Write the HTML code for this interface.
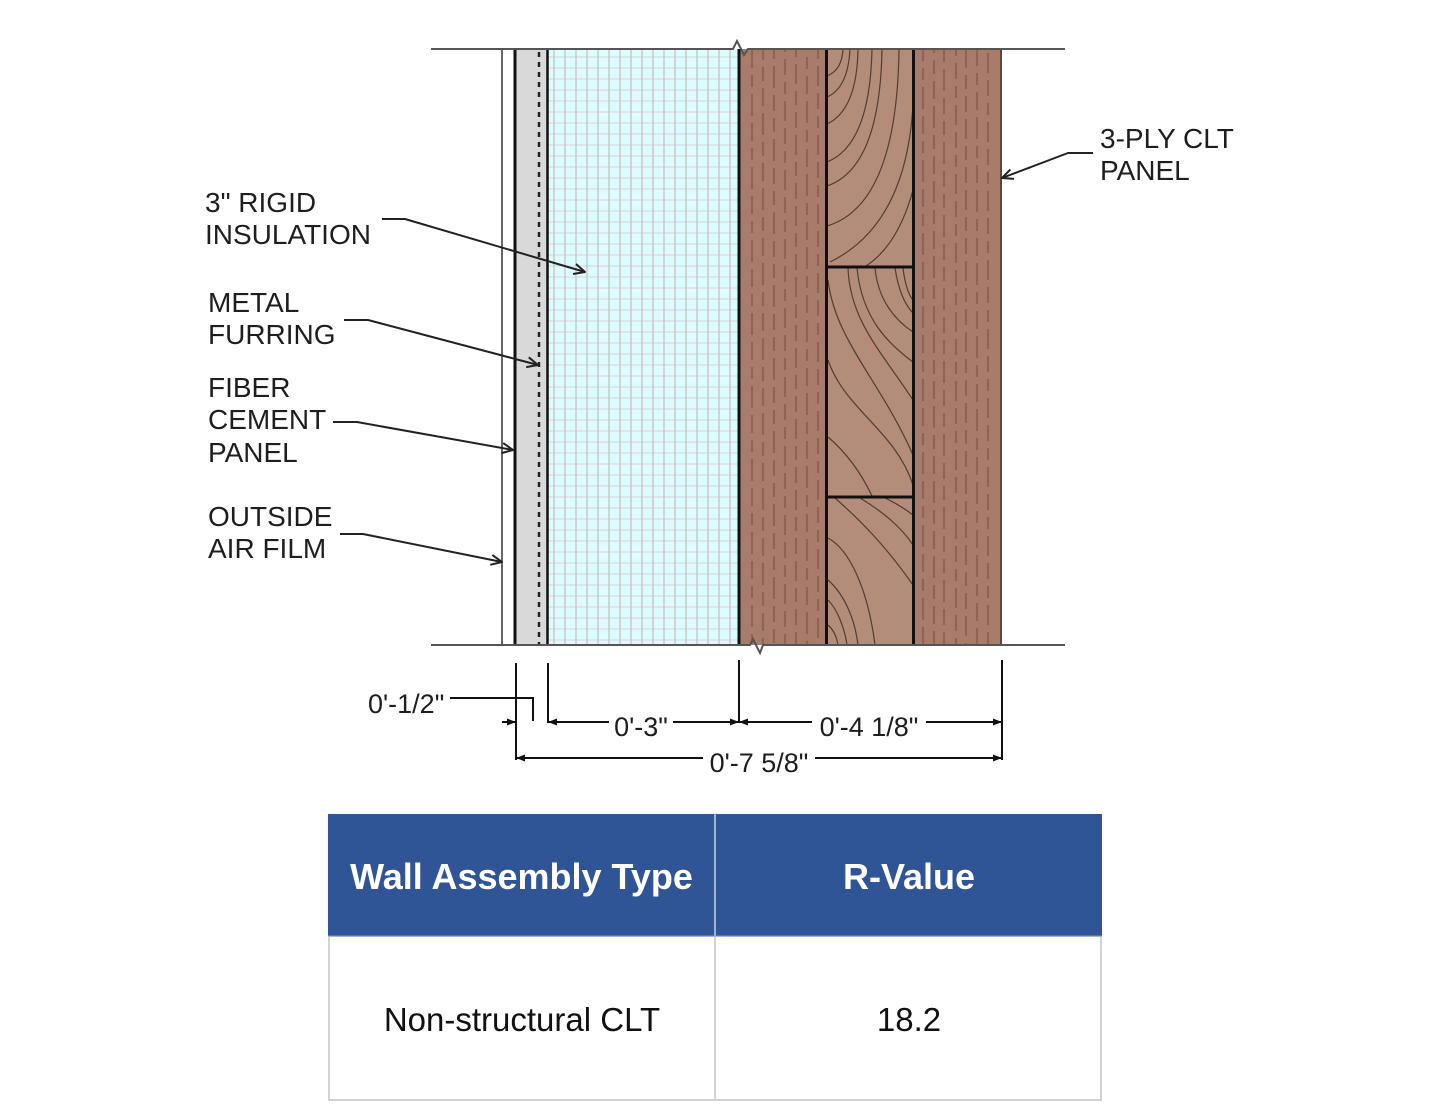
<!DOCTYPE html>
<html>
<head>
<meta charset="utf-8">
<style>
  html,body{margin:0;padding:0;background:#fff;}
  svg{display:block;}
  .lbl{font-family:"Liberation Sans",Arial,sans-serif;font-size:28px;fill:#1e1e1e;}
  .dim{font-family:"Liberation Sans",Arial,sans-serif;font-size:27px;fill:#1e1e1e;}
  .th{font-family:"Liberation Sans","DejaVu Sans",sans-serif;font-size:36px;font-weight:bold;fill:#fff;}
  .td{font-family:"Liberation Sans","DejaVu Sans",sans-serif;font-size:33px;fill:#111;}
</style>
</head>
<body>
<svg width="1440" height="1116" viewBox="0 0 1440 1116" xmlns="http://www.w3.org/2000/svg">
  <defs>
    <pattern id="grid" patternUnits="userSpaceOnUse" x="548" y="49" width="11" height="11">
      <rect width="11" height="11" fill="#dcfdfd"/>
      <line x1="0" y1="8" x2="11" y2="8" stroke="#d8d4d8" stroke-width="1"/>
      <line x1="6" y1="0" x2="6" y2="11" stroke="#ccc0c4" stroke-width="1.3"/>
    </pattern>
  </defs>

  <!-- wall fills -->
  <rect x="516" y="49" width="31" height="596" fill="#d9d9d9"/>
  <rect x="548" y="49" width="190" height="596" fill="url(#grid)"/>
  <rect x="740" y="49" width="87" height="596" fill="#a77c6a"/>
  <rect x="827" y="49" width="87" height="596" fill="#b38c7a"/>
  <rect x="914" y="49" width="87" height="596" fill="#a77c6a"/>

  <!-- outer ply dashes -->
  <g stroke="#8e5e50" stroke-width="2.2" fill="none" opacity="0.8">
    <line x1="752" y1="50" x2="752" y2="644" stroke-dasharray="18 7 12 7 22 7" stroke-dashoffset="0"/>
    <line x1="763" y1="50" x2="763" y2="644" stroke-dasharray="22 7 14 7 18 7" stroke-dashoffset="12"/>
    <line x1="774" y1="50" x2="774" y2="644" stroke-dasharray="14 7 22 7 16 7" stroke-dashoffset="5"/>
    <line x1="785" y1="50" x2="785" y2="644" stroke-dasharray="20 7 16 7 12 7" stroke-dashoffset="18"/>
    <line x1="796" y1="50" x2="796" y2="644" stroke-dasharray="16 7 20 7 14 7" stroke-dashoffset="9"/>
    <line x1="807" y1="50" x2="807" y2="644" stroke-dasharray="22 7 12 7 18 7" stroke-dashoffset="22"/>
    <line x1="818" y1="50" x2="818" y2="644" stroke-dasharray="12 7 20 7 16 7" stroke-dashoffset="3"/>
    <line x1="923" y1="50" x2="923" y2="644" stroke-dasharray="18 7 12 7 22 7" stroke-dashoffset="7"/>
    <line x1="934" y1="50" x2="934" y2="644" stroke-dasharray="22 7 14 7 18 7" stroke-dashoffset="19"/>
    <line x1="944" y1="50" x2="944" y2="644" stroke-dasharray="14 7 22 7 16 7" stroke-dashoffset="2"/>
    <line x1="956" y1="50" x2="956" y2="644" stroke-dasharray="20 7 16 7 12 7" stroke-dashoffset="14"/>
    <line x1="966" y1="50" x2="966" y2="644" stroke-dasharray="16 7 20 7 14 7" stroke-dashoffset="25"/>
    <line x1="977" y1="50" x2="977" y2="644" stroke-dasharray="22 7 12 7 18 7" stroke-dashoffset="6"/>
    <line x1="988" y1="50" x2="988" y2="644" stroke-dasharray="12 7 20 7 16 7" stroke-dashoffset="16"/>
  </g>

  <!-- middle ply grain -->
  <g stroke="#3a2a22" stroke-width="1.2" fill="none" opacity="0.8">
    <path d="M843,49 Q842,70 827,76"/>
    <path d="M850,49 Q848,88 827,97"/>
    <path d="M858,49 Q857,110 827,124"/>
    <path d="M872,49 Q870,145 827,162"/>
    <path d="M882,49 Q880,168 827,186"/>
    <path d="M899,49 Q897,205 827,226"/>
    <path d="M913,105 Q906,225 830,262"/>
    <path d="M913,190 Q898,245 866,266"/>

    <path d="M848,268 C850,320 880,350 913,400"/>
    <path d="M857,268 C862,320 890,345 913,362"/>
    <path d="M875,268 C878,300 895,320 913,332"/>
    <path d="M895,268 Q900,300 913,313"/>
    <path d="M903,268 Q906,292 913,300"/>
    <path d="M828,280 C835,340 880,380 913,455"/>
    <path d="M828,360 C845,410 895,430 913,485"/>
    <path d="M828,437 Q855,460 872,496"/>

    <path d="M835,498 C860,520 885,545 913,585"/>
    <path d="M860,498 C880,510 900,525 913,545"/>
    <path d="M885,498 Q900,505 913,515"/>
    <path d="M828,538 C850,550 868,590 875,645"/>
    <path d="M828,580 C845,595 855,620 858,645"/>
    <path d="M828,600 C838,610 845,630 847,645"/>
    <path d="M828,625 Q836,632 838,645"/>
  </g>

  <!-- vertical lines -->
  <line x1="502" y1="49" x2="502" y2="645" stroke="#666" stroke-width="2"/>
  <line x1="515" y1="49" x2="515" y2="645" stroke="#111" stroke-width="3"/>
  <line x1="539" y1="52" x2="539" y2="645" stroke="#222" stroke-width="2.5" stroke-dasharray="5 5"/>
  <line x1="547.5" y1="49" x2="547.5" y2="645" stroke="#111" stroke-width="2.5"/>
  <line x1="739" y1="49" x2="739" y2="645" stroke="#111" stroke-width="3"/>
  <line x1="826.5" y1="49" x2="826.5" y2="645" stroke="#111" stroke-width="3"/>
  <line x1="913.5" y1="49" x2="913.5" y2="645" stroke="#111" stroke-width="3"/>
  <line x1="1001" y1="49" x2="1001" y2="645" stroke="#5e463e" stroke-width="2"/>
  <line x1="827" y1="267" x2="913" y2="267" stroke="#111" stroke-width="3"/>
  <line x1="827" y1="497" x2="913" y2="497" stroke="#111" stroke-width="3"/>

  <!-- top and bottom lines with breaks -->
  <path d="M431,49 L733,49 L737,41 L744,55 L748,49 L1065,49" stroke="#555" stroke-width="2" fill="none"/>
  <path d="M431,645 L750,645 L753,639 L760,653 L763,645 L1065,645" stroke="#555" stroke-width="2" fill="none"/>

  <!-- leaders -->
  <g stroke="#222" stroke-width="2" fill="none" stroke-linejoin="round">
    <path d="M382,219 L405,219 L585,272"/>
    <path d="M576,264 L585,272 L573,274"/>
    <path d="M344,320 L368,320 L538,365"/>
    <path d="M528.8,357.3 L538,365 L526.2,367.1"/>
    <path d="M333,422 L357,422 L513,450"/>
    <path d="M503.2,443.1 L513,450 L501.4,453.1"/>
    <path d="M340,534 L363,534 L502,562"/>
    <path d="M492.3,554.9 L502,562 L490.3,564.8"/>
    <path d="M1093,153 L1068,153 L1002,178"/>
    <path d="M1014,178.9 L1002,178 L1010.4,169.4"/>
  </g>

  <!-- labels -->
  <text class="lbl" x="205" y="212">3" RIGID</text>
  <text class="lbl" x="205" y="244">INSULATION</text>
  <text class="lbl" x="208" y="312">METAL</text>
  <text class="lbl" x="208" y="344">FURRING</text>
  <text class="lbl" x="208" y="397">FIBER</text>
  <text class="lbl" x="208" y="429">CEMENT</text>
  <text class="lbl" x="208" y="462">PANEL</text>
  <text class="lbl" x="208" y="526">OUTSIDE</text>
  <text class="lbl" x="208" y="558">AIR FILM</text>
  <text class="lbl" x="1100" y="148">3-PLY CLT</text>
  <text class="lbl" x="1100" y="180">PANEL</text>

  <!-- dimensions -->
  <g stroke="#111" stroke-width="2" fill="none">
    <line x1="516" y1="663" x2="516" y2="760"/>
    <line x1="548" y1="663" x2="548" y2="723"/>
    <line x1="739" y1="660" x2="739" y2="723"/>
    <line x1="1002" y1="660" x2="1002" y2="760"/>
    <path d="M450,698 L533,698 L533,721"/>
    <line x1="502" y1="722" x2="515" y2="722"/>
    <line x1="548" y1="722" x2="609" y2="722"/>
    <line x1="673" y1="722" x2="739" y2="722"/>
    <line x1="739" y1="722" x2="812" y2="722"/>
    <line x1="926" y1="722" x2="1002" y2="722"/>
    <line x1="516" y1="758" x2="703" y2="758"/>
    <line x1="815" y1="758" x2="1002" y2="758"/>
  </g>
  <g fill="#111">
    <path d="M516,722 L507,718.5 L507,725.5 Z"/>
    <path d="M548,722 L557,718.5 L557,725.5 Z"/>
    <path d="M739,722 L730,718.5 L730,725.5 Z"/>
    <path d="M739,722 L748,718.5 L748,725.5 Z"/>
    <path d="M1002,722 L993,718.5 L993,725.5 Z"/>
    <path d="M516,758 L525,754.5 L525,761.5 Z"/>
    <path d="M1002,758 L993,754.5 L993,761.5 Z"/>
  </g>
  <text class="dim" x="368" y="713">0'-1/2"</text>
  <text class="dim" x="641" y="736" text-anchor="middle">0'-3"</text>
  <text class="dim" x="869" y="736" text-anchor="middle">0'-4 1/8"</text>
  <text class="dim" x="759" y="772" text-anchor="middle">0'-7 5/8"</text>

  <!-- table -->
  <rect x="329" y="936" width="772" height="164" fill="#fff" stroke="#d2d2d2" stroke-width="2"/>
  <rect x="328" y="814" width="774" height="122" fill="#2f5597"/>
  <line x1="715" y1="814" x2="715" y2="936" stroke="#c9d3e6" stroke-width="1.5"/>
  <line x1="715" y1="936" x2="715" y2="1100" stroke="#d2d2d2" stroke-width="2"/>
  <line x1="328" y1="936" x2="1102" y2="936" stroke="#7f97c4" stroke-width="1"/>
  <text class="th" x="521.5" y="889" text-anchor="middle">Wall Assembly Type</text>
  <text class="th" x="909" y="889" text-anchor="middle">R-Value</text>
  <text class="td" x="522" y="1031" text-anchor="middle">Non-structural CLT</text>
  <text class="td" x="909" y="1031" text-anchor="middle">18.2</text>
</svg>
</body>
</html>
